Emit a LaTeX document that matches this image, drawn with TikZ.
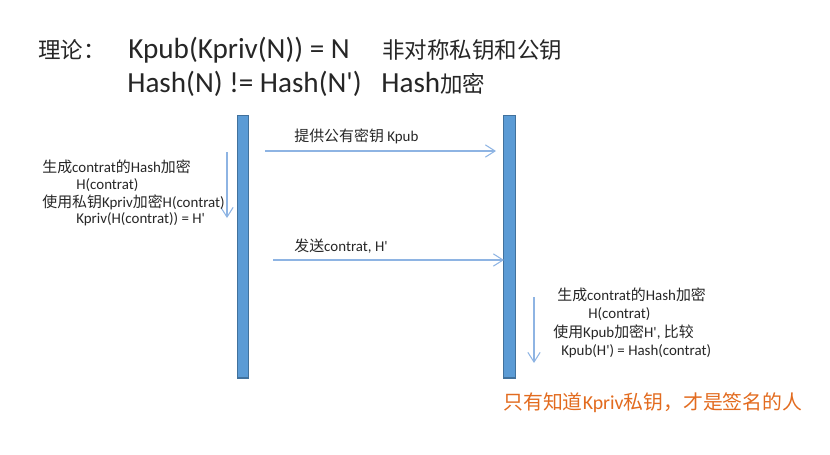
\documentclass[tikz,border=0pt]{standalone}
\usepackage{fontspec}
\setmainfont{Carlito}[Ligatures=TeXOff]
\newfontfamily\cjk{Noto Sans CJK SC}
\usetikzlibrary{arrows.meta}
\definecolor{barblue}{HTML}{5B9BD5}
\definecolor{bardark}{HTML}{41719C}
\definecolor{msgblue}{HTML}{8EB4E3}
\definecolor{textgray}{HTML}{262626}
\definecolor{noteorange}{HTML}{E26B1F}
\newcommand{\zh}[1]{{\cjk #1}}

\begin{document}
\begin{tikzpicture}[x=0.02cm,y=-0.02cm,
  bar/.style={draw=bardark,fill=barblue,line width=0.6pt,minimum width=0.23cm,
    minimum height=5.26cm,inner sep=0pt},
  msg/.style={draw=msgblue,line width=0.6pt,-{Straight Barb[length=5.5pt,width=7pt]}},
  body/.style={anchor=base west,inner sep=0pt,text=textgray,font=\fontsize{8.5}{10}\selectfont},
  head/.style={anchor=base west,inner sep=0pt,text=textgray,font=\fontsize{16.6}{19}\selectfont},
  headzh/.style={head,font={\cjk\fontsize{12.8}{15}\selectfont}}]
  \useasboundingbox (0,0) rectangle (830,454);
  % Titel
  \node[headzh] (theory) at (38,58) {理论：};
  \node[head] (rsa) at (128,58) {Kpub(Kpriv(N)) = N};
  \node[headzh] (rsanote) at (382,58) {非对称私钥和公钥};
  \node[head] (hash) at (127,92) {Hash(N) != Hash(N')};
  \node[head] (hashnote) at (381,92) {Hash{\cjk\fontsize{12.8}{15}\selectfont 加密}};
  % Lebenslinien
  \node[bar] (sender) at (243,246.5) {};
  \node[bar] (receiver) at (509.5,246.5) {};
  % Nachrichten
  \coordinate (pub s) at (265,151);
  \coordinate (pub e) at (496,151);
  \draw[msg] (pub s) -- (pub e);
  \node[body] (publabel) at (294,141) {\zh{提供公有密钥} Kpub};
  \coordinate (send s) at (273,260);
  \coordinate (send e) at (504,260);
  \draw[msg] (send s) -- (send e);
  \node[body] (sendlabel) at (294,251) {\zh{发送}contrat, H'};
  % Signieren
  \coordinate (sign s) at (227,152);
  \coordinate (sign e) at (227,218);
  \draw[msg] (sign s) -- (sign e);
  \node[body] (sign1) at (42,172) {\zh{生成}contrat\zh{的}Hash\zh{加密}};
  \node[body] (sign2) at (76,189) {H(contrat)};
  \node[body] (sign3) at (42,207) {\zh{使用私钥}Kpriv\zh{加密}H(contrat)};
  \node[body] (sign4) at (76,223) {Kpriv(H(contrat)) = H'};
  % Pruefen
  \coordinate (check s) at (534,297);
  \coordinate (check e) at (534,363);
  \draw[msg] (check s) -- (check e);
  \node[body] (check1) at (557,300) {\zh{生成}contrat\zh{的}Hash\zh{加密}};
  \node[body] (check2) at (588,318) {H(contrat)};
  \node[body] (check3) at (553,337) {\zh{使用}Kpub\zh{加密}H', \zh{比较}};
  \node[body] (check4) at (561,355) {Kpub(H') = Hash(contrat)};
  % Fazit
  \node[body,text=noteorange,font=\fontsize{11.3}{13}\selectfont] (conclusion) at (503,409.5)
    {\zh{只有知道}Kpriv\zh{私钥，才是签名的人}};
\end{tikzpicture}
\end{document}
